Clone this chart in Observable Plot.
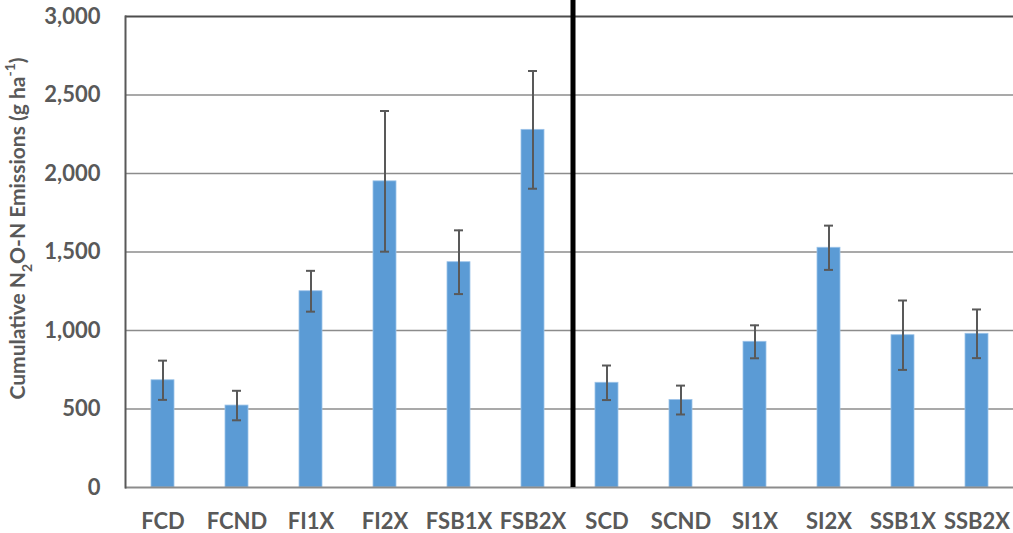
<!DOCTYPE html>
<html>
<head>
<meta charset="utf-8">
<script src="https://cdn.jsdelivr.net/npm/d3@7"></script>
<script src="https://cdn.jsdelivr.net/npm/@observablehq/plot@0.6"></script>
<style>
  html, body { margin: 0; padding: 0; background: #fff; }
  #chart svg { display: block; }
</style>
</head>
<body>
<div id="chart"></div>
<script>
const categories = ["FCD","FCND","FI1X","FI2X","FSB1X","FSB2X","SCD","SCND","SI1X","SI2X","SSB1X","SSB2X"];
const means  = [683, 522, 1250, 1950, 1435, 2278, 667, 557, 928, 1527, 970, 979];
const errors = [125,  94,  130,  448,  203,  375, 110,  92, 105,  141, 221, 155];
const yTicks = [0, 500, 1000, 1500, 2000, 2500, 3000];
const dividerAfter = "FSB2X";
const yLabelParts = [["Cumulative N", null], ["2", "sub"], ["O-N Emissions (g ha", null], ["-1", "super"], [")", null]];

const data = categories.map((c, i) => ({cat: c, v: means[i], lo: means[i] - errors[i], hi: means[i] + errors[i]}));

const W = 1013, H = 533;
const mL = 125, mR = 0, mT = 16, mB = 46;
const step = (W - mL - mR) / categories.length;
const barW = step * 0.31;
const capW = 9;
const textColor = "#595959";

const chart = Plot.plot({
  width: W,
  height: H,
  marginLeft: mL,
  marginRight: mR,
  marginTop: mT,
  marginBottom: mB,
  style: {fontFamily: "Lato, 'Open Sans', sans-serif", fontWeight: "bold", color: textColor, background: "#fff"},
  x: {domain: categories, paddingInner: 0.69, paddingOuter: 0.345, label: null},
  y: {domain: [0, 3000], label: null},
  marks: [
    Plot.ruleY(yTicks.filter(d => d > 0 && d < 3000), {stroke: "#8c8c8c", strokeWidth: 1.5}),
    Plot.barY(data, {x: "cat", y: "v", fill: "#5B9BD5", stroke: "#9cc3e8", strokeWidth: 0.8}),
    Plot.ruleX(data, {x: "cat", y1: "lo", y2: "hi", stroke: "#595959", strokeWidth: 2}),
    Plot.tickY(data, {x: "cat", y: "hi", stroke: "#595959", strokeWidth: 2, insetLeft: (barW - capW) / 2, insetRight: (barW - capW) / 2}),
    Plot.tickY(data, {x: "cat", y: "lo", stroke: "#595959", strokeWidth: 2, insetLeft: (barW - capW) / 2, insetRight: (barW - capW) / 2}),
    Plot.ruleY([0], {stroke: "#8c8c8c", strokeWidth: 2}),
    Plot.ruleY([3000], {stroke: "#4d4d4d", strokeWidth: 2}),
    Plot.ruleX([dividerAfter], {x: d => d, y1: 3000, y2: 0, dx: step / 2 + 3, insetTop: -mT, stroke: "#000", strokeWidth: 5}),
    Plot.frame({anchor: "left", stroke: "#595959", strokeWidth: 2}),
    Plot.axisY({ticks: yTicks, tickFormat: d3.format(","), tickSize: 0, tickPadding: 25, fontSize: 22, label: null}),
    Plot.axisX({tickSize: 0, tickPadding: 26, fontSize: 22, label: null})
  ]
});

// y-axis title with sub/superscript
const svg = d3.select(chart);
const t = svg.append("text")
  .attr("transform", `translate(20,${(mT + (H - mB)) / 2 - 23}) rotate(-90)`)
  .attr("text-anchor", "middle")
  .attr("dominant-baseline", "middle")
  .attr("font-family", "Lato, 'Open Sans', sans-serif")
  .attr("font-weight", "bold")
  .attr("font-size", 21)
  .attr("fill", textColor);
for (const [s, shift] of yLabelParts) {
  const ts = t.append("tspan").text(s);
  if (shift) ts.attr("baseline-shift", shift).attr("font-size", 14);
}

document.getElementById("chart").appendChild(chart);
</script>
</body>
</html>
